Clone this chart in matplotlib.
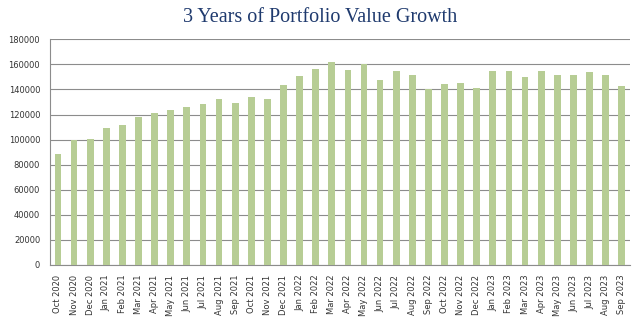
import matplotlib
matplotlib.use("Agg")
import matplotlib.pyplot as plt

months = ["Oct 2020", "Nov 2020", "Dec 2020", "Jan 2021", "Feb 2021", "Mar 2021",
          "Apr 2021", "May 2021", "Jun 2021", "Jul 2021", "Aug 2021", "Sep 2021",
          "Oct 2021", "Nov 2021", "Dec 2021", "Jan 2022", "Feb 2022", "Mar 2022",
          "Apr 2022", "May 2022", "Jun 2022", "Jul 2022", "Aug 2022", "Sep 2022",
          "Oct 2022", "Nov 2022", "Dec 2022", "Jan 2023", "Feb 2023", "Mar 2023",
          "Apr 2023", "May 2023", "Jun 2023", "Jul 2023", "Aug 2023", "Sep 2023"]
values = [88500, 99800, 100500, 109500, 111500, 118000,
          121300, 123700, 126000, 128200, 132500, 129300,
          134000, 132200, 143600, 150500, 156400, 161700,
          155600, 160000, 147300, 154300, 151900, 140000,
          144400, 145500, 141500, 155000, 154500, 150000,
          154500, 151300, 151900, 153700, 151300, 142800]
yticks = [0, 20000, 40000, 60000, 80000, 100000, 120000, 140000, 160000, 180000]

fig = plt.figure(figsize=(6.4, 3.3), dpi=100)
ax = fig.add_axes([0.078, 0.197, 0.906, 0.684])

x = list(range(len(months)))
ax.bar(x, values, width=0.42, color="#B7CD95", zorder=3)

ax.set_ylim(0, 180000)
ax.set_xlim(-0.5, len(months) - 0.5)
ax.set_yticks(yticks)
ax.set_yticklabels([str(v) for v in yticks], fontsize=6, color="#333333")
ax.set_xticks(x)
ax.set_xticklabels(months, rotation=90, fontsize=6, color="#333333")
ax.yaxis.grid(True, color="#8C8C8C", linewidth=0.8, zorder=0)
ax.tick_params(axis="x", length=0, pad=7)
ax.tick_params(axis="y", length=0, pad=7)
for s in ["top", "right"]:
    ax.spines[s].set_visible(False)
for s in ["left", "bottom"]:
    ax.spines[s].set_color("#8C8C8C")
    ax.spines[s].set_linewidth(0.8)

fig.text(0.5, 0.948, "3 Years of Portfolio Value Growth", ha="center", va="center",
         fontsize=14.5, color="#1F3A6E", family="Liberation Serif")

fig.savefig("out.png", dpi=100)
